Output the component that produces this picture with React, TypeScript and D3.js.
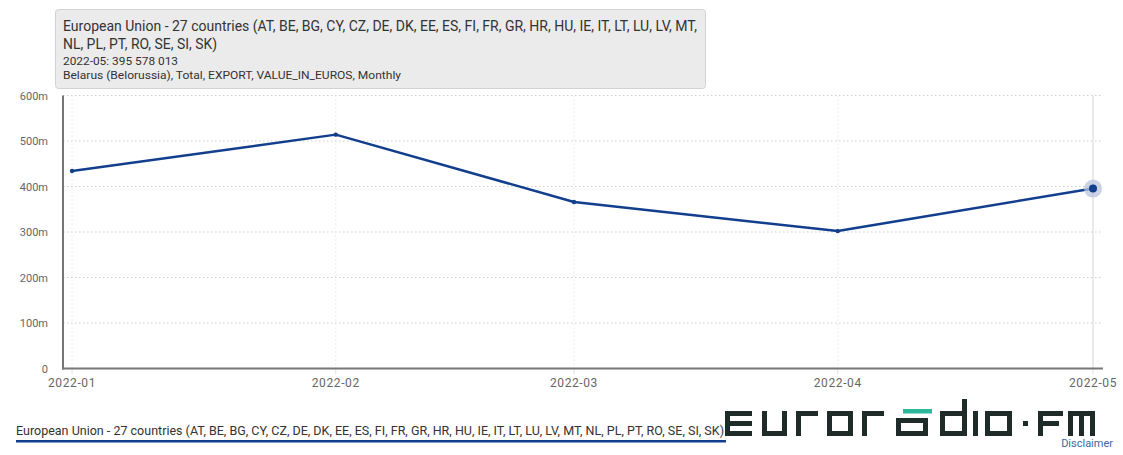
import React from "react";
import * as d3 from "d3";

const months = ["2022-01", "2022-02", "2022-03", "2022-04", "2022-05"];
const exportValues = [434e6, 514e6, 366e6, 302e6, 395578013];
const yTicks = [0, 100e6, 200e6, 300e6, 400e6, 500e6, 600e6];
const seriesName =
  "European Union - 27 countries (AT, BE, BG, CY, CZ, DE, DK, EE, ES, FI, FR, GR, HR, HU, IE, IT, LT, LU, LV, MT, NL, PL, PT, RO, SE, SI, SK)";
const tooltipLine1 =
  "European Union - 27 countries (AT, BE, BG, CY, CZ, DE, DK, EE, ES, FI, FR, GR, HR, HU, IE, IT, LT, LU, LV, MT,";
const tooltipLine2 = "NL, PL, PT, RO, SE, SI, SK)";
const tooltipValue = "2022-05: 395 578 013";
const tooltipMeta = "Belarus (Belorussia), Total, EXPORT, VALUE_IN_EUROS, Monthly";

const W = 1123;
const H = 455;
const FONT = "Roboto, 'Noto Sans', sans-serif";
const DARK = "#1f2b29";
const TEAL = "#2bb89c";
const LINE = "#123e8e";

type R = [number, number, number, number];
const T = 5;
function letter(ch: string, w: number, h: number): R[] {
  switch (ch) {
    case "e":
      return [[0, 0, w, T], [0, (h - T) / 2, w, T], [0, h - T, w, T], [0, 0, T, h]];
    case "u":
      return [[0, 0, T, h], [w - T, 0, T, h], [0, h - T, w, T]];
    case "r":
      return [[0, 0, T, h], [0, 0, w, T]];
    case "o":
      return [[0, 0, T, h], [w - T, 0, T, h], [0, 0, w, T], [0, h - T, w, T]];
    case "a":
      return [[w - T, 7, T, h - 7], [0, 7, w, T], [0, 7, T, h - 7], [0, h - T, w, T]];
    case "d":
      return [[0, 0, T, h], [w - T, -12, T, h + 12], [0, 0, w, T], [0, h - T, w, T]];
    case "i":
      return [[0, 0, T, h]];
    case ".":
      return [[0, (h - T) / 2, T, T]];
    case "f":
      return [[0, 0, T, h], [0, 0, w, T], [0, (h - T) / 2, w - 4, T]];
    case "m":
      return [[0, 0, T, h], [(w - T) / 2, 0, T, h], [w - T, 0, T, h], [0, 0, w, T]];
  }
  return [];
}
const logoLetters: [string, number, number][] = [
  ["e", 725, 27],
  ["u", 762, 25],
  ["r", 796, 22],
  ["o", 827, 26],
  ["r", 862, 22],
  ["a", 896, 32],
  ["d", 940, 27],
  ["i", 973, 5],
  ["o", 985, 27],
  [".", 1023, 5],
  ["f", 1038, 25],
  ["m", 1068, 27],
];

export default function App() {
  const parse = d3.timeParse("%Y-%m");
  const dates = months.map((m) => parse(m) as Date);
  const x = d3.scaleTime().domain([dates[0], dates[dates.length - 1]]).range([72, 1093]);
  const y = d3.scaleLinear().domain([0, 600e6]).range([368.5, 95.5]);
  const fmt = (v: number) => (v === 0 ? "0" : `${v / 1e6}m`);
  const line = d3
    .line<number>()
    .x((_, i) => x(dates[i]))
    .y((d) => y(d));
  const pts = exportValues.map((v, i) => [x(dates[i]), y(v)]);
  const last = pts[pts.length - 1];
  const left = 63;
  const right = 1103;
  const logoTop = 411;
  const logoH = 25;

  return (
    <svg width={W} height={H} style={{ position: "absolute", left: 0, top: 0, background: "#fff" }} fontFamily={FONT}>
      <rect x={0} y={0} width={W} height={H} fill="#fff" />
      {yTicks.map((t) => (
        <g key={t}>
          <line x1={left} x2={right} y1={y(t)} y2={y(t)} stroke="#cfcfcf" strokeDasharray="1.5,2.5" />
          <text x={48} y={y(t) + 4} textAnchor="end" fontSize={11} fill="#666">
            {fmt(t)}
          </text>
        </g>
      ))}
      {dates.map((d, i) => (
        <g key={i}>
          <line x1={x(d)} x2={x(d)} y1={y(600e6)} y2={y(0)} stroke="#e6e6e6" strokeDasharray="1.5,2.5" />
          <line x1={x(d)} x2={x(d)} y1={y(0)} y2={y(0) + 6} stroke="#e2e2e2" />
          <text x={x(d)} y={387} textAnchor="middle" fontSize={12} fill="#666" letterSpacing={0.6}>
            {months[i]}
          </text>
        </g>
      ))}
      <line x1={last[0]} x2={last[0]} y1={y(600e6)} y2={y(0)} stroke="#e4e4e4" strokeWidth={1.5} />
      <line x1={left} x2={left} y1={y(600e6)} y2={y(0) + 1} stroke="#777" strokeWidth={2} />
      <line x1={left - 1} x2={right} y1={y(0)} y2={y(0)} stroke="#777" strokeWidth={2} />
      <path d={line(exportValues) || ""} fill="none" stroke={LINE} strokeWidth={2.5} strokeLinejoin="round" />
      {pts.slice(0, -1).map((p, i) => (
        <circle key={i} cx={p[0]} cy={p[1]} r={2.2} fill={LINE} />
      ))}
      <circle cx={last[0]} cy={last[1]} r={9} fill="#b9c3dc" opacity={0.75} />
      <circle cx={last[0]} cy={last[1]} r={4} fill={LINE} />
      <rect x={55.5} y={9.5} width={650} height={79} rx={3} fill="#ebebeb" stroke="#d2d2d2" />
      <text x={63} y={31} fontSize={14} fill="#333" textLength={634} lengthAdjust="spacingAndGlyphs">
        {tooltipLine1}
      </text>
      <text x={63} y={49} fontSize={14} fill="#333" textLength={154} lengthAdjust="spacingAndGlyphs">
        {tooltipLine2}
      </text>
      <text x={63} y={65} fontSize={11.5} fill="#333" textLength={115} lengthAdjust="spacingAndGlyphs">
        {tooltipValue}
      </text>
      <text x={63} y={79} fontSize={11.5} fill="#333" textLength={338} lengthAdjust="spacingAndGlyphs">
        {tooltipMeta}
      </text>
      <text x={16} y={435} fontSize={13.5} fill="#333" textLength={708} lengthAdjust="spacingAndGlyphs">
        {seriesName}
      </text>
      <rect x={16} y={440} width={710} height={2.5} fill={LINE} />
      {logoLetters.map(([ch, lx, lw], i) =>
        letter(ch, lw, logoH).map((r, j) => (
          <rect key={`${i}-${j}`} x={lx + r[0]} y={logoTop + r[1]} width={r[2]} height={r[3]} fill={DARK} />
        ))
      )}
      <rect x={903} y={logoTop - 2} width={29} height={4.5} fill={TEAL} />
      <text x={1113} y={447} textAnchor="end" fontSize={11} fill="#3d6a9c">
        Disclaimer
      </text>
    </svg>
  );
}
